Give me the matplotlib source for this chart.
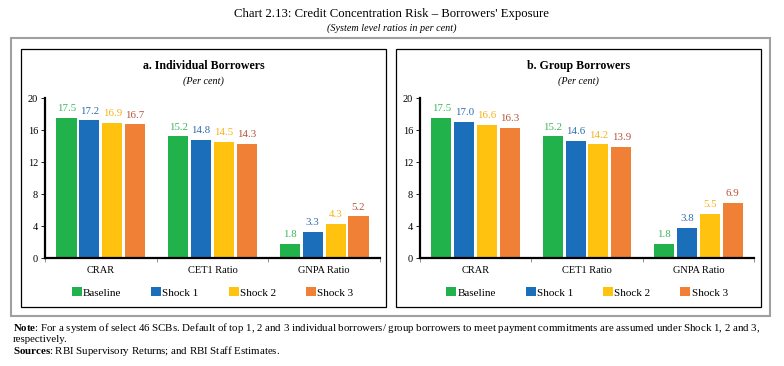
import numpy as np
import matplotlib.pyplot as plt
from matplotlib.patches import Rectangle

categories = ['CRAR', 'CET1 Ratio', 'GNPA Ratio']
series = ['Baseline', 'Shock 1', 'Shock 2', 'Shock 3']
individual = [[17.5, 15.2, 1.8],
              [17.2, 14.8, 3.3],
              [16.9, 14.5, 4.3],
              [16.7, 14.3, 5.2]]
group = [[17.5, 15.2, 1.8],
         [17.0, 14.6, 3.8],
         [16.6, 14.2, 5.5],
         [16.3, 13.9, 6.9]]
colors = ['#21b24b', '#1b6fba', '#ffc20e', '#f08035']
label_colors = ['#3bb75a', '#2a6db0', '#f5b316', '#b5513a']

plt.rcParams['font.family'] = ['Liberation Serif', 'DejaVu Serif']
plt.rcParams['mathtext.fontset'] = 'custom'
plt.rcParams['mathtext.rm'] = 'Liberation Serif'
plt.rcParams['mathtext.bf'] = 'Liberation Serif:bold'

fig = plt.figure(figsize=(7.84, 3.66), dpi=100)
W, H = 784, 366

def px(x, y):
    return x / W, 1 - y / H

# frames
fig.patches.append(Rectangle(px(11, 316), 759 / W, 278 / H, transform=fig.transFigure,
                             fill=False, ec='#a0a0a0', lw=1.5))
for x0 in (21, 396):
    fig.patches.append(Rectangle(px(x0, 307), 365 / W, 258 / H, transform=fig.transFigure,
                                 fill=False, ec='black', lw=0.9))

fig.text(392 / W, 1 - 14 / H, "Chart 2.13: Credit Concentration Risk – Borrowers' Exposure",
         ha='center', va='center', fontsize=9.2)
fig.text(392 / W, 1 - 28 / H, "(System level ratios in per cent)",
         ha='center', va='center', fontsize=7.3, style='italic')

panels = [(individual, 'a. Individual Borrowers', 45, 380, 21),
          (group, 'b. Group Borrowers', 420, 754, 396)]

x = np.arange(len(categories))
w = 0.18
step = 0.205
for data, title, left, right, box in panels:
    ax = fig.add_axes([left / W, 1 - 258 / H, (right - left) / W, 160 / H])
    for i, s in enumerate(series):
        pos = x + (i - 1.5) * step
        bars = ax.bar(pos, data[i], w, color=colors[i], label=s)
        for b, v in zip(bars, data[i]):
            ax.text(b.get_x() + b.get_width() / 2, v + 0.6, f'{v:.1f}',
                    ha='center', va='bottom', fontsize=7.8, color=label_colors[i])
    ax.set_ylim(0, 20)
    ax.set_xlim(-0.5, 2.5)
    ax.set_yticks([0, 4, 8, 12, 16, 20])
    ax.set_xticks(x)
    ax.set_xticklabels(categories)
    ax.set_xticks([-0.5, 0.5, 1.5, 2.5], minor=True)
    ax.tick_params(axis='x', which='major', length=0, labelsize=7.5, pad=6)
    ax.tick_params(axis='x', which='minor', length=3, width=0.6, color='#808080')
    ax.tick_params(axis='y', labelsize=7.5, length=3, width=0.6, pad=2)
    ax.spines['top'].set_visible(False)
    ax.spines['right'].set_visible(False)
    ax.spines['left'].set_linewidth(1.6)
    ax.spines['bottom'].set_linewidth(1.6)
    ax.patch.set_alpha(0)

    mid = box + 365 / 2
    fig.text(mid / W, 1 - 66 / H, title, ha='center', va='center',
             fontsize=8.6, fontweight='bold')
    fig.text(mid / W, 1 - 81 / H, '(Per cent)', ha='center', va='center',
             fontsize=7.3, style='italic')
    ax.legend(loc='upper center', bbox_to_anchor=(0.5, -0.155), ncol=4, frameon=False,
              fontsize=8, handlelength=0.9, handleheight=0.9, handletextpad=0.1,
              columnspacing=2.7, borderaxespad=0)

fig.text(13 / W, 1 - 328 / H,
         r"$\bf{Note}$: For a system of select 46 SCBs. Default of top 1, 2 and 3 individual borrowers/ "
         "group borrowers to meet payment commitments are assumed under Shock 1, 2 and 3,",
         ha='left', va='center', fontsize=7.8)
fig.text(13 / W, 1 - 339 / H, "respectively.", ha='left', va='center', fontsize=7.8)
fig.text(13 / W, 1 - 351 / H,
         r"$\bf{Sources}$: RBI Supervisory Returns; and RBI Staff Estimates.",
         ha='left', va='center', fontsize=7.8)

fig.savefig('out.png', dpi=100)
